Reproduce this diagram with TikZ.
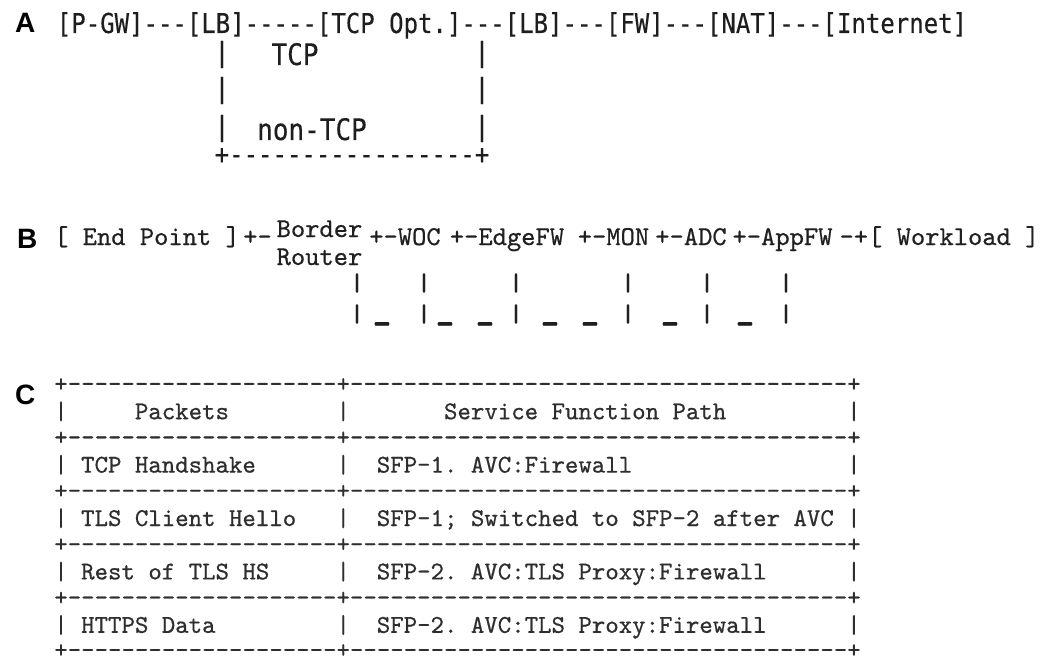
\documentclass[tikz,border=0pt]{standalone}
\usepackage{fontspec}
\newfontfamily\amonofont{DejaVu Sans Mono}[Ligatures=TeXOff,FakeBold=0.3]
\newfontfamily\cmonofont{lmmono10-regular.otf}[FakeBold=0.6]
\newfontfamily\labelfont{Liberation Sans}[Ligatures=TeXOff]
\frenchspacing
\definecolor{inkA}{HTML}{1E1E1E}
\definecolor{inkB}{HTML}{202020}
\definecolor{inkC}{HTML}{2E2E2E}
\newcommand\vsA[1]{\scalebox{1}[1.14]{#1}}
\newcommand\vsBar[1]{\scalebox{1.15}[0.92]{#1}}
\newcommand\vsUnd[1]{\scalebox{1.3}[1.8]{#1}}
\begin{document}
\begin{tikzpicture}[x=1pt,y=-1pt,
  lab/.style={inner sep=0pt, anchor=base west, text=black, font=\labelfont\bfseries\fontsize{28}{28}\selectfont},
  rowA/.style={inner sep=0pt, anchor=base, text=inkA, font=\amonofont\fontsize{24}{24}\selectfont},
  bigA/.style={inner sep=0pt, anchor=base, text=inkA, font=\amonofont\fontsize{26}{26}\selectfont},
  glyphA/.style={inner sep=0pt, anchor=center, text=inkA, font=\amonofont\fontsize{24}{24}\selectfont},
  rowB/.style={inner sep=0pt, anchor=base, text=inkB, font=\cmonofont\fontsize{27.2}{27.2}\selectfont},
  glyphB/.style={inner sep=0pt, anchor=center, text=inkB, font=\cmonofont\fontsize{27.2}{27.2}\selectfont},
  rowC/.style={inner sep=0pt, anchor=base, text=inkC, font=\cmonofont\fontsize{25.6}{25.6}\selectfont},
  lineC/.style={inner sep=0pt, anchor=center, text=inkC, font=\cmonofont\fontsize{25.6}{25.6}\selectfont}]
\useasboundingbox[fill=white] (0,0) rectangle (1055,658);

% ---------- Part A ----------
\node[lab] (labA) at (15,33) {A};
\node[rowA] (a1) at (512,33) {\vsA{[P-GW]---[LB]-----[TCP~Opt.]---[LB]---[FW]---[NAT]---[Internet]}};
\node[glyphA] (aL1) at (222,54.5) {\vsA{|}};
\node[glyphA] (aR1) at (482,54.5) {\vsA{|}};
\node[glyphA] (aL2) at (222,90.5) {\vsA{|}};
\node[glyphA] (aR2) at (482,90.5) {\vsA{|}};
\node[glyphA] (aL3) at (222,128.5) {\vsA{|}};
\node[glyphA] (aR3) at (482,128.5) {\vsA{|}};
\node[bigA] (tcp) at (295,65) {\vsA{TCP}};
\node[bigA] (ntcp) at (312,140) {\vsA{non-TCP}};
\node[glyphA] (abot) at (352,156) {\vsA{+-----------------+}};

% ---------- Part B ----------
\node[lab] (labB) at (17,248) {B};
\node[rowB] (b1) at (147,245) {[~End~Point~]};
\node[rowB] (b2) at (257.5,245) {+-};
\node[rowB] (b3) at (319.5,237) {Border};
\node[rowB] (b4) at (319.5,265) {Router};
\node[rowB] (b5) at (405,245) {+-WOC};
\node[rowB] (b6) at (507,245) {+-EdgeFW};
\node[rowB] (b7) at (613.5,245) {+-MON};
\node[rowB] (b8) at (691,245) {+-ADC};
\node[rowB] (b9) at (782.5,245) {+-AppFW};
\node[rowB] (b10) at (939.5,245) {-+[~Workload~]};
\foreach \x [count=\i] in {357,424,516,628,707,786}{
  \node[glyphB] (bu\i) at (\x,283) {\vsBar{|}};
  \node[glyphB] (bl\i) at (\x,314) {\vsBar{|}};
}
\foreach \x [count=\i] in {382,445,485,550,590,670,745}{
  \node[glyphB] (bs\i) at (\x,321.5) {\vsUnd{\_}};
}

% ---------- Part C ----------
\node[lab] (labC) at (15,404) {C};
\node[lineC] (c0) at (457.5,385) {+--------------------+-------------------------------------+};
\node[rowC] (c1) at (457.5,419.2) {|~~~~~Packets~~~~~~~~|~~~~~~~Service~Function~Path~~~~~~~~~|};
\node[lineC] (c2) at (457.5,438.4) {+--------------------+-------------------------------------+};
\node[rowC] (c3) at (457.5,472.6) {|~TCP~Handshake~~~~~~|~~SFP-1.~AVC:Firewall~~~~~~~~~~~~~~~~|};
\node[lineC] (c4) at (457.5,491.8) {+--------------------+-------------------------------------+};
\node[rowC] (c5) at (457.5,526) {|~TLS~Client~Hello~~~|~~SFP-1;~Switched~to~SFP-2~after~AVC~|};
\node[lineC] (c6) at (457.5,545.2) {+--------------------+-------------------------------------+};
\node[rowC] (c7) at (457.5,579.4) {|~Rest~of~TLS~HS~~~~~|~~SFP-2.~AVC:TLS~Proxy:Firewall~~~~~~|};
\node[lineC] (c8) at (457.5,598.6) {+--------------------+-------------------------------------+};
\node[rowC] (c9) at (457.5,632.8) {|~HTTPS~Data~~~~~~~~~|~~SFP-2.~AVC:TLS~Proxy:Firewall~~~~~~|};
\node[lineC] (c10) at (457.5,651) {+--------------------+-------------------------------------+};
\end{tikzpicture}
\end{document}
